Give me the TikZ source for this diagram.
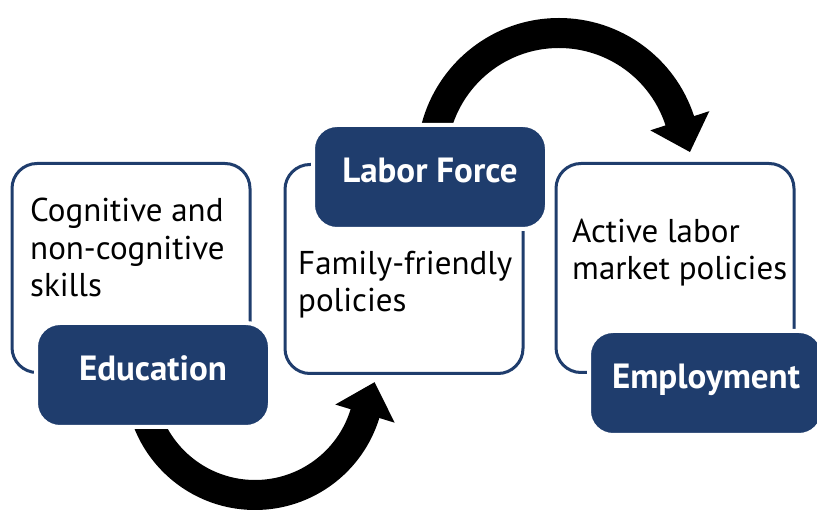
\documentclass[tikz,border=0pt]{standalone}
\usepackage{fontspec}
\setmainfont{PT Sans}
\usetikzlibrary{arrows.meta}

\definecolor{navy}{RGB}{31,61,109}

\tikzstyle{framebox}=[draw=navy,line width=3pt,fill=white,rounded corners=25pt,minimum width=238pt,minimum height=209pt]
\tikzstyle{headbox}=[draw=white,line width=4pt,fill=navy,rounded corners=24pt,minimum width=234pt,minimum height=104pt,text=white,font=\fontsize{35}{37}\selectfont\bfseries,text height=11pt,text depth=0pt]
\tikzstyle{note}=[align=left,inner sep=0pt,font=\fontsize{33}{37.5}\selectfont,anchor=base west]
\tikzstyle{bigarrow}=[line width=30pt,-{Triangle[width=60pt,length=33pt]}]

\begin{document}
\begin{tikzpicture}[x=1pt,y=-1pt]
    \useasboundingbox (0,0) rectangle (817,510);
    %Curved arrows
    \coordinate (lowstart) at (140,380);
    \coordinate (highstart) at (432,160);
    \draw[bigarrow] (lowstart) arc[start angle=180,end angle=17,radius=115] -- ++(-73:33);
    \draw[bigarrow] (highstart) arc[start angle=180,end angle=342,radius=127] -- ++(72:33);
    %Policy boxes
    \foreach \pos/\name in {{(131,268)/edu}, {(404,269)/lab}, {(675,268)/emp}}
    \node[framebox] (\name) at \pos {};
    %Headings
    \foreach \pos/\name/\txt in {{(153,375)/eduhead/Education},
                                 {(430,177)/labhead/Labor Force},
                                 {(706,383)/emphead/Employment}}
    \node[headbox] (\name) at \pos {\txt};
    %Box texts (placed at the last line)
    \node[note] (edutxt) at (30,297) {Cognitive and\\non-cognitive\\skills};
    \node[note] (labtxt) at (298,312) {Family-friendly\\policies};
    \node[note] (emptxt) at (572,280) {Active labor\\market policies};
\end{tikzpicture}
\end{document}
